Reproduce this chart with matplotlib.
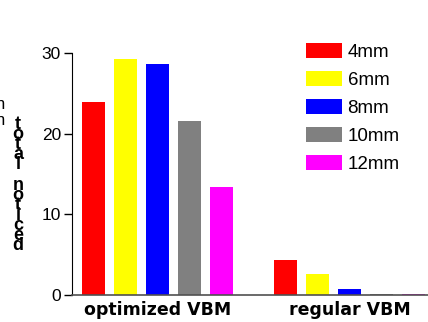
import matplotlib
matplotlib.use("Agg")
import matplotlib.pyplot as plt
import numpy as np

groups = ["optimized VBM", "regular VBM"]
sizes = ["4mm", "6mm", "8mm", "10mm", "12mm"]
colors = ["#ff0000", "#ffff00", "#0000ff", "#808080", "#ff00ff"]
optimized = [23.9, 29.2, 28.6, 21.6, 13.4]
regular = [4.3, 2.6, 0.7, 0.1, 0.1]
yticks = [0, 10, 20, 30]

plt.rcParams["font.family"] = ["Liberation Sans", "DejaVu Sans"]

W, H = 428, 322
fig = plt.figure(figsize=(W / 100, H / 100), dpi=100)
ax = fig.add_axes([72 / W, 27 / H, (W - 72) / W, 242 / H])

values = [optimized, regular]
group_start = [0, 6]
for g, vals in enumerate(values):
    for i, v in enumerate(vals):
        ax.bar(group_start[g] + i, v, width=0.72, color=colors[i],
               label=sizes[i] if g == 0 else None)

ax.set_xlim(-0.67, 10.45)
ax.set_ylim(0, 30)
ax.set_yticks(yticks)
ax.tick_params(axis="y", labelsize=12.5, length=6, width=1, direction="out", pad=2)
ax.set_xticks([group_start[0] + 2, group_start[1] + 2])
ax.set_xticklabels(groups)
ax.tick_params(axis="x", length=0, pad=4)
for t in ax.get_xticklabels():
    t.set_family(["DejaVu Sans"])
    t.set_fontweight("bold")
    t.set_fontsize(12.5)
for s in ["top", "right"]:
    ax.spines[s].set_visible(False)
ax.spines["left"].set_color("black")
ax.spines["bottom"].set_color("#505050")
ax.spines["bottom"].set_linewidth(1.2)

ax.legend(loc="upper left", bbox_to_anchor=((306 - 72) / (W - 72), 1.04),
          frameon=False, fontsize=13.5, handlelength=1.92, handleheight=0.8,
          labelspacing=0.55, handletextpad=0.3, borderaxespad=0, borderpad=0)

# garbled y label as in the original
fig.text(18 / W, 1 - 116 / H, "\n".join("total noticed"), ha="center", va="top",
         fontsize=13, fontweight="bold", linespacing=0.47)
fig.text(5 / W, 1 - 97 / H, "n\nn", ha="right", va="top", fontsize=12,
         linespacing=1.05)

fig.savefig("out.png", dpi=100)
